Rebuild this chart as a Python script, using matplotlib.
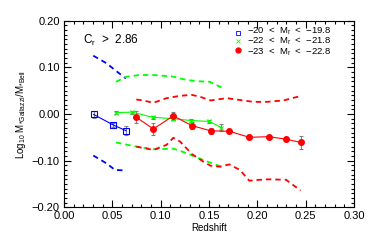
import matplotlib
matplotlib.use("Agg")
import matplotlib.pyplot as plt
from matplotlib.ticker import MultipleLocator

plt.rcParams['font.family'] = ['Liberation Sans', 'DejaVu Sans']
plt.rcParams['mathtext.fontset'] = 'custom'
plt.rcParams['mathtext.rm'] = 'Liberation Sans'
plt.rcParams['mathtext.it'] = 'Liberation Sans'
plt.rcParams['mathtext.bf'] = 'Liberation Sans:bold'

# faint sample
z_b = [0.0307, 0.0510, 0.0641]
y_b = [-0.001, -0.0236, -0.0357]
e_b = [0.008, 0.005, 0.009]
zb_up = [0.0303, 0.0441, 0.0528, 0.0641]
yb_up = [0.125, 0.1086, 0.094, 0.076]
zb_lo = [0.0303, 0.0441, 0.0528, 0.0641]
yb_lo = [-0.089, -0.106, -0.120, -0.121]

# middle sample
z_g = [0.0538, 0.0707, 0.0917, 0.1124, 0.1317, 0.1503, 0.1628]
y_g = [0.003, 0.004, -0.007, -0.010, -0.014, -0.016, -0.029]
e_g = [0.004, 0.003, 0.003, 0.003, 0.003, 0.003, 0.008]
zg_up = [0.0538, 0.0648, 0.0786, 0.0924, 0.1062, 0.1131, 0.1269, 0.1407, 0.151, 0.1628]
yg_up = [0.069, 0.080, 0.0836, 0.0836, 0.0814, 0.080, 0.0729, 0.070, 0.069, 0.057]
zg_lo = [0.0538, 0.0717, 0.0924, 0.1131, 0.1269, 0.1407, 0.1545, 0.1628]
yg_lo = [-0.061, -0.0686, -0.0757, -0.0743, -0.084, -0.0957, -0.107, -0.113]

# bright sample
z_r = [0.0748, 0.0924, 0.1131, 0.1324, 0.1517, 0.171, 0.1917, 0.2117, 0.2297, 0.2448]
y_r = [-0.007, -0.032, -0.004, -0.025, -0.036, -0.037, -0.050, -0.0486, -0.054, -0.061]
e_r = [0.013, 0.013, 0.008, 0.007, 0.007, 0.004, 0.004, 0.004, 0.004, 0.014]
zr_up = [0.0748, 0.082, 0.0924, 0.1062, 0.12, 0.132, 0.1407, 0.1517, 0.1683, 0.182, 0.196, 0.2097, 0.227, 0.2448]
yr_up = [0.031, 0.029, 0.024, 0.034, 0.039, 0.041, 0.037, 0.029, 0.034, 0.030, 0.026, 0.026, 0.029, 0.0386]
zr_lo = [0.0748, 0.0924, 0.1062, 0.1131, 0.12, 0.1324, 0.1441, 0.1517, 0.1614, 0.171, 0.182, 0.1917, 0.2028, 0.2117, 0.2297, 0.2448]
yr_lo = [-0.070, -0.077, -0.066, -0.051, -0.059, -0.086, -0.102, -0.111, -0.113, -0.108, -0.120, -0.143, -0.141, -0.140, -0.141, -0.164]

labels = ['\u221220  <  M$_r$  <  \u221219.8', '\u221222  <  M$_r$  <  \u221221.8', '\u221223  <  M$_r$  <  \u221222.8']

fig = plt.figure(figsize=(3.74, 2.49), dpi=100)
ax = fig.add_axes([64/374, 1-207.3/249, 290/374, 186.6/249])

blue = '#0000ff'
green = '#00ff00'
red = '#ff0000'
grey = '#808080'
dash = (0, (3, 2.2))

for zz, yy, c in [(zb_up, yb_up, blue), (zb_lo, yb_lo, blue),
                  (zg_up, yg_up, green), (zg_lo, yg_lo, green),
                  (zr_up, yr_up, red), (zr_lo, yr_lo, red)]:
    ax.plot(zz, yy, color=c, lw=1.3, linestyle=dash)

for zz, yy, ee in [(z_b, y_b, e_b), (z_g, y_g, e_g), (z_r, y_r, e_r)]:
    ax.errorbar(zz, yy, yerr=ee, fmt='none', ecolor=grey, elinewidth=0.8, capsize=1.5, capthick=0.8)

ax.plot(z_b, y_b, color=blue, lw=0.8, marker='s', ms=4, mfc='none', mec=blue, mew=0.8)
ax.plot(z_g, y_g, color=green, lw=0.8, marker='x', ms=3.5, mec=green, mew=0.8)
ax.plot(z_r, y_r, color=red, lw=0.8, marker='o', ms=4, mfc=red, mec=red)

# legend (manual, as in IDL): markers + one multi-line text block
leg_y = [0.1735, 0.1555, 0.1365]
ax.plot([0.180], [leg_y[0]], 's', ms=3.5, mfc='none', mec=blue, mew=0.6)
ax.plot([0.180], [leg_y[1]], 'x', ms=3.2, mec=green, mew=0.6)
ax.plot([0.180], [leg_y[2]], 'o', ms=3.5, mfc=red, mec=red)
ax.text(0.189, leg_y[1], '\n'.join(labels), fontsize=6.8, va='center', ha='left',
        linespacing=0.85)

ax.text(0.020, 0.157, 'C$_r$  >  2.86', fontsize=8.5, va='center', ha='left')

ax.set_xlim(0, 0.30)
ax.set_ylim(-0.20, 0.20)
ax.xaxis.set_minor_locator(MultipleLocator(0.01))
ax.yaxis.set_minor_locator(MultipleLocator(0.01))
ax.set_xticks([0, 0.05, 0.10, 0.15, 0.20, 0.25, 0.30])
ax.set_xticklabels(['0.00', '0.05', '0.10', '0.15', '0.20', '0.25', '0.30'])
ax.set_yticks([-0.2, -0.1, 0, 0.1, 0.2])
ax.set_yticklabels(['\u22120.20', '\u22120.10', '0.00', '0.10', '0.20'])
ax.tick_params(which='both', direction='in', top=True, right=True, labelsize=8, width=0.8, pad=3)
ax.tick_params(which='major', length=5)
ax.tick_params(which='minor', length=2.5)
for s in ax.spines.values():
    s.set_linewidth(0.8)

ax.set_xlabel('Redshift', fontsize=7, labelpad=1)
ax.set_ylabel(r'Log$_{10}$ M$_{*Gallazzi}$/M$_{*Bell}$', fontsize=7, labelpad=3)

fig.savefig('out.png', dpi=100)
